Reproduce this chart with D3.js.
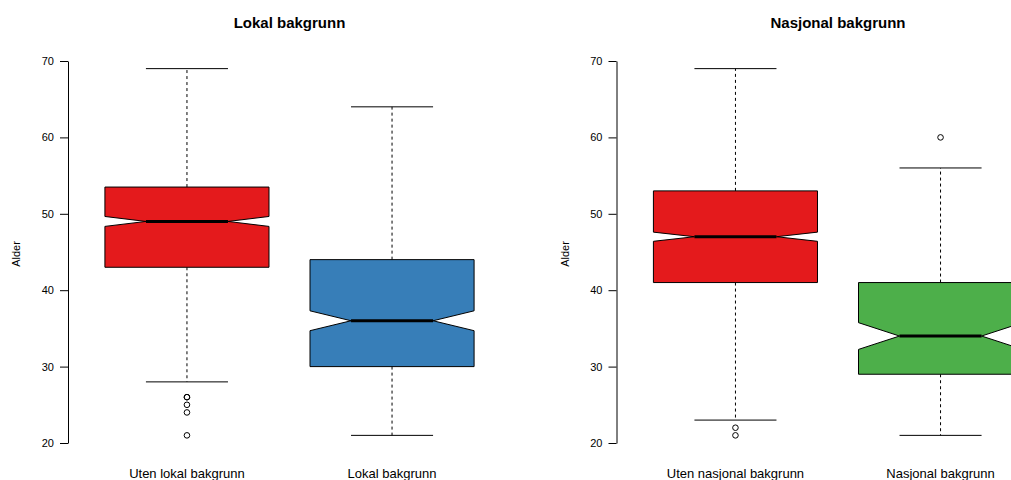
<!DOCTYPE html>
<html>
<head>
<meta charset="utf-8">
<script src="https://cdn.jsdelivr.net/npm/d3@7"></script>
<style>
  html, body { margin: 0; padding: 0; background: #fff; }
  svg { display: block; font-family: "Liberation Sans", Arial, Helvetica, sans-serif; }
</style>
</head>
<body>
<svg id="chart" width="1011" height="480"></svg>
<script>
// ---- Data ----
const panelTitles = ["Lokal bakgrunn", "Nasjonal bakgrunn"];
const yLabel = "Alder";
const yTicks = [20, 30, 40, 50, 60, 70];

const leftCategories = ["Uten lokal bakgrunn", "Lokal bakgrunn"];
const leftLowerWhisker = [28, 21];
const leftQ1 = [43, 30];
const leftMedian = [49, 36];
const leftQ3 = [53.5, 44];
const leftUpperWhisker = [69, 64];
const leftNotchLow = [48.35, 34.7];
const leftNotchHigh = [49.65, 37.3];
const leftOutliers = [[26, 26, 25, 24, 21], []];
const leftColors = ["#E41A1C", "#377EB8"];

const rightCategories = ["Uten nasjonal bakgrunn", "Nasjonal bakgrunn"];
const rightLowerWhisker = [23, 21];
const rightQ1 = [41, 29];
const rightMedian = [47, 34];
const rightQ3 = [53, 41];
const rightUpperWhisker = [69, 56];
const rightNotchLow = [46.4, 32.25];
const rightNotchHigh = [47.6, 35.75];
const rightOutliers = [[22, 21], [60]];
const rightColors = ["#E41A1C", "#4DAF4A"];

// ---- Layout ----
const svg = d3.select("#chart");
const plotTop = 61, plotBottom = 443;
const y = d3.scaleLinear().domain([20, 70]).range([plotBottom, plotTop]);

const panels = [
  { title: panelTitles[0], cats: leftCategories, lw: leftLowerWhisker, q1: leftQ1, med: leftMedian,
    q3: leftQ3, uw: leftUpperWhisker, nl: leftNotchLow, nh: leftNotchHigh, out: leftOutliers,
    colors: leftColors, x0: 68, x1: 511, ylabX: 16 },
  { title: panelTitles[1], cats: rightCategories, lw: rightLowerWhisker, q1: rightQ1, med: rightMedian,
    q3: rightQ3, uw: rightUpperWhisker, nl: rightNotchLow, nh: rightNotchHigh, out: rightOutliers,
    colors: rightColors, x0: 616.5, x1: 1059.5, ylabX: 565 }
];

panels.forEach(p => {
  const g = svg.append("g");
  const x = d3.scaleLinear().domain([0.42, 2.58]).range([p.x0, p.x1]);
  const hw = x(1.4) - x(1);     // box half width
  const nw = hw * 0.5;          // notch inset
  const cw = hw * 0.5;          // staple half width

  // title
  g.append("text")
    .attr("x", (p.x0 + p.x1) / 2).attr("y", 28)
    .attr("text-anchor", "middle")
    .attr("font-size", "15px").attr("font-weight", "bold")
    .text(p.title);

  // y axis
  const ax = g.append("g")
    .attr("transform", `translate(${p.x0},0)`)
    .call(d3.axisLeft(y).tickValues(yTicks).tickSize(8).tickSizeOuter(0).tickPadding(6));
  ax.selectAll("path, line").attr("stroke", "#000").attr("stroke-width", 1);
  ax.selectAll("text").attr("font-size", "11px").attr("fill", "#000")
    .attr("font-family", "Liberation Sans, Arial, sans-serif");

  // y label
  g.append("text")
    .attr("transform", `translate(${p.ylabX + 4},${(plotTop + plotBottom) / 2 + 2}) rotate(-90)`)
    .attr("text-anchor", "middle")
    .attr("font-size", "11px")
    .text(yLabel);

  p.cats.forEach((c, i) => {
    const cx = x(i + 1);
    // whiskers (dashed)
    g.append("line").attr("x1", cx).attr("x2", cx)
      .attr("y1", y(p.q3[i])).attr("y2", y(p.uw[i]))
      .attr("stroke", "#000").attr("stroke-dasharray", "3,3");
    g.append("line").attr("x1", cx).attr("x2", cx)
      .attr("y1", y(p.q1[i])).attr("y2", y(p.lw[i]))
      .attr("stroke", "#000").attr("stroke-dasharray", "3,3");
    // staples
    [p.uw[i], p.lw[i]].forEach(v => {
      g.append("line").attr("x1", cx - cw).attr("x2", cx + cw)
        .attr("y1", y(v)).attr("y2", y(v)).attr("stroke", "#000");
    });
    // notched box
    const pts = [
      [cx - hw, y(p.q1[i])],
      [cx - hw, y(p.nl[i])],
      [cx - nw, y(p.med[i])],
      [cx - hw, y(p.nh[i])],
      [cx - hw, y(p.q3[i])],
      [cx + hw, y(p.q3[i])],
      [cx + hw, y(p.nh[i])],
      [cx + nw, y(p.med[i])],
      [cx + hw, y(p.nl[i])],
      [cx + hw, y(p.q1[i])]
    ];
    g.append("path")
      .attr("d", d3.line()(pts) + "Z")
      .attr("fill", p.colors[i]).attr("stroke", "#000").attr("stroke-width", 1);
    // median
    g.append("line").attr("x1", cx - nw).attr("x2", cx + nw)
      .attr("y1", y(p.med[i])).attr("y2", y(p.med[i]))
      .attr("stroke", "#000").attr("stroke-width", 3);
    // outliers
    p.out[i].forEach(v => {
      g.append("circle").attr("cx", cx).attr("cy", y(v)).attr("r", 2.8)
        .attr("fill", "none").attr("stroke", "#000").attr("stroke-width", 1);
    });
    // category label
    g.append("text").attr("x", cx).attr("y", 478)
      .attr("text-anchor", "middle").attr("font-size", "13px")
      .text(c);
  });
});
</script>
</body>
</html>
